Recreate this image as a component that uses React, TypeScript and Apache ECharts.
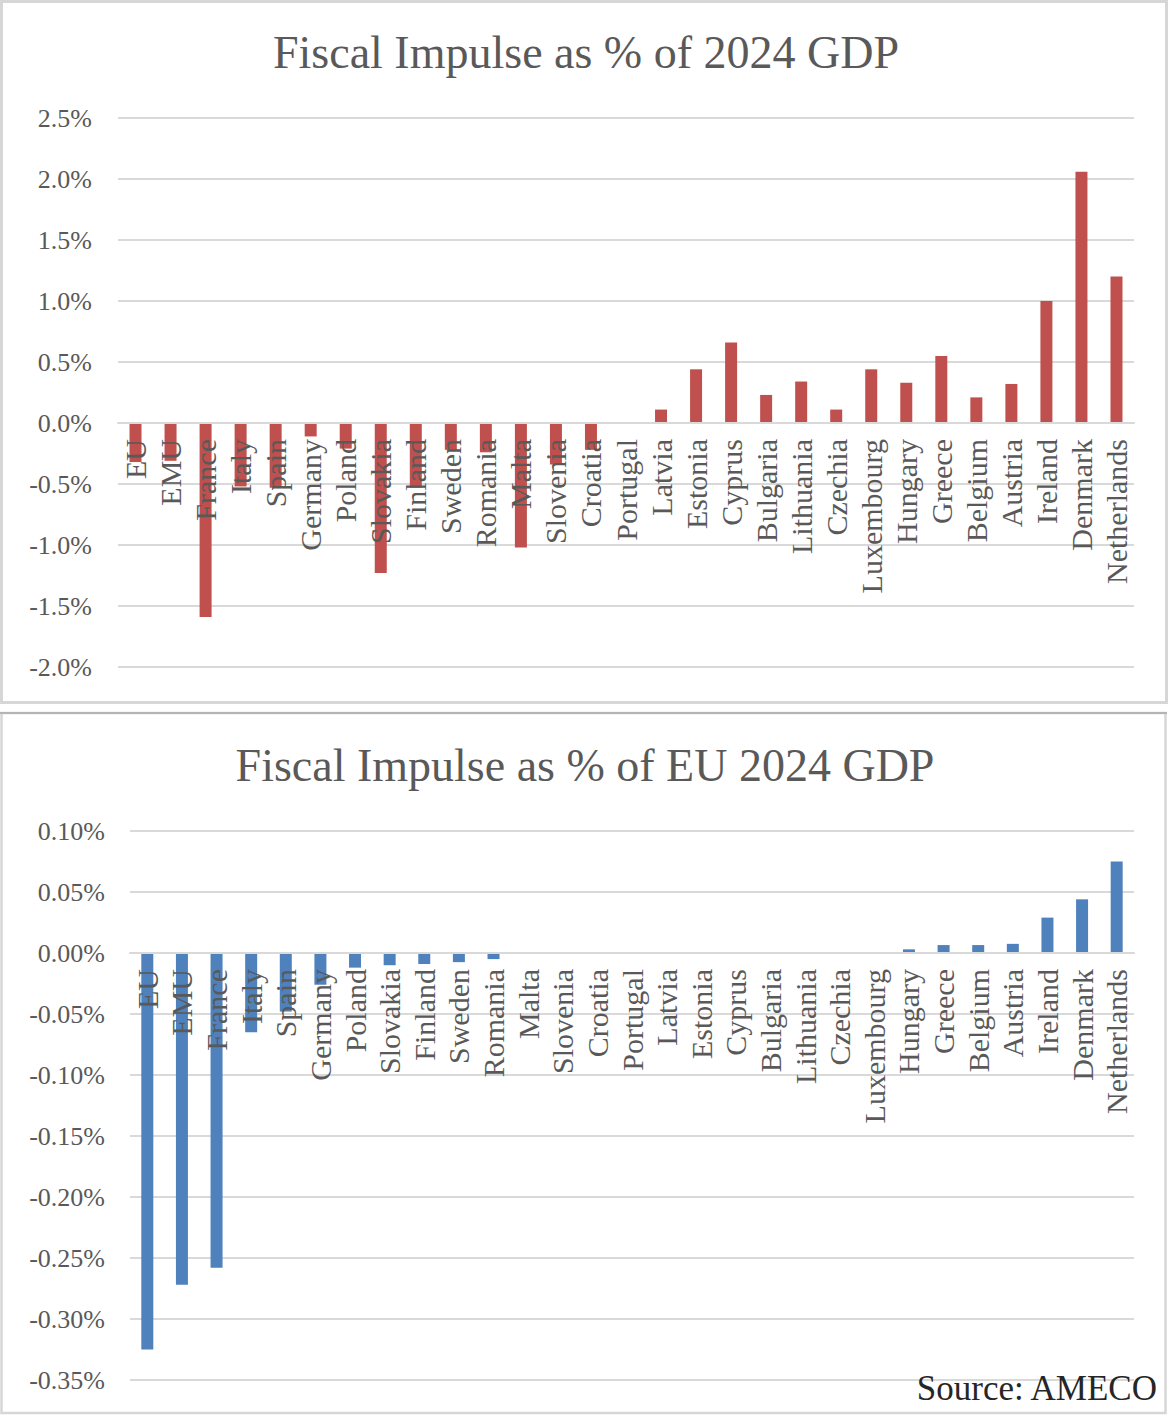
import React, { useEffect, useRef } from "react";
import * as echarts from "echarts";

// Countries, ordered as in the ranking of fiscal impulse
const categories = [
  "EU", "EMU", "France", "Italy", "Spain", "Germany", "Poland", "Slovakia",
  "Finland", "Sweden", "Romania", "Malta", "Slovenia", "Croatia", "Portugal",
  "Latvia", "Estonia", "Cyprus", "Bulgaria", "Lithuania", "Czechia",
  "Luxembourg", "Hungary", "Greece", "Belgium", "Austria", "Ireland",
  "Denmark", "Netherlands",
];

// Fiscal impulse as % of each country's own 2024 GDP
const impulseOwnGdp = [
  -0.32, -0.31, -1.59, -0.52, -0.53, -0.11, -0.21, -1.23, -0.53, -0.22,
  -0.24, -1.02, -0.34, -0.22, 0.0, 0.11, 0.44, 0.66, 0.23, 0.34, 0.11,
  0.44, 0.33, 0.55, 0.21, 0.32, 1.0, 2.06, 1.2,
];

// Fiscal impulse as % of EU 2024 GDP
const impulseEuGdp = [
  -0.325, -0.272, -0.258, -0.065, -0.048, -0.026, -0.012, -0.01, -0.009,
  -0.0075, -0.005, 0, 0, 0, 0, 0, 0, 0, 0, 0, 0, 0, 0.003, 0.0065, 0.0065,
  0.0075, 0.029, 0.044, 0.075,
];

// Value-axis ranges [min, max, step]
const ownGdpAxis = [-2.0, 2.5, 0.5];
const euGdpAxis = [-0.35, 0.1, 0.05];

const titles = [
  "Fiscal Impulse as % of 2024 GDP",
  "Fiscal Impulse as % of EU 2024 GDP",
];
const sourceNote = "Source: AMECO";

const FONT = "'Liberation Serif', 'DejaVu Serif', serif";
const GREY_TEXT = "#595959";
const GRID_LINE = "#d9d9d9";

// Plot areas of the two panels
const panels = [
  { left: 118, top: 118, width: 1016, height: 549, range: ownGdpAxis },
  { left: 130, top: 831, width: 1004, height: 549, range: euGdpAxis },
];

// Distance (px) from the bottom of a plot area up to the value 0,
// so the category axis sits on the zero line
const zeroOffset = (p: { height: number; range: number[] }) =>
  -(p.height * (0 - p.range[0])) / (p.range[1] - p.range[0]);

export default function App() {
  const ref = useRef<HTMLDivElement>(null);

  useEffect(() => {
    if (!ref.current) return;
    const chart = echarts.init(ref.current, null, { renderer: "svg" });

    const xAxisBase = (gridIndex: number) => ({
      type: "category" as const,
      gridIndex,
      data: categories,
      position: "bottom" as const,
      offset: zeroOffset(panels[gridIndex]),
      z: 5,
      axisLine: { show: true, onZero: false, lineStyle: { color: GRID_LINE, width: 2 } },
      axisTick: { show: false },
      axisLabel: {
        rotate: 90,
        interval: 0,
        margin: 16,
        fontSize: 30,
        fontFamily: FONT,
        color: GREY_TEXT,
      },
    });

    const yAxisBase = (gridIndex: number, digits: number, margin: number) => ({
      type: "value" as const,
      gridIndex,
      min: panels[gridIndex].range[0],
      max: panels[gridIndex].range[1],
      interval: panels[gridIndex].range[2],
      axisLine: { show: false },
      axisTick: { show: false },
      splitLine: { lineStyle: { color: GRID_LINE, width: 2 } },
      axisLabel: {
        margin,
        fontSize: 26,
        fontFamily: FONT,
        color: GREY_TEXT,
        formatter: (v: number) => v.toFixed(digits) + "%",
      },
    });

    chart.setOption({
      animation: false,
      backgroundColor: "#ffffff",
      grid: panels.map((p) => ({
        left: p.left,
        top: p.top,
        width: p.width,
        height: p.height,
      })),
      xAxis: [xAxisBase(0), xAxisBase(1)],
      yAxis: [yAxisBase(0, 1, 26), yAxisBase(1, 2, 25)],
      series: [
        {
          type: "bar",
          xAxisIndex: 0,
          yAxisIndex: 0,
          data: impulseOwnGdp,
          barWidth: 12,
          itemStyle: { color: "#C0504D" },
        },
        {
          type: "bar",
          xAxisIndex: 1,
          yAxisIndex: 1,
          data: impulseEuGdp,
          barWidth: 12,
          itemStyle: { color: "#4F81BD" },
        },
      ],
      graphic: [
        {
          type: "rect",
          z: -1,
          shape: { x: 1.5, y: 1.5, width: 1165, height: 701 },
          style: { fill: "none", stroke: "#d6d6d6", lineWidth: 3 },
        },
        {
          type: "rect",
          z: -1,
          shape: { x: 1.5, y: 713, width: 1164, height: 700 },
          style: { fill: "none", stroke: "#d6d6d6", lineWidth: 2.5 },
        },
        {
          type: "line",
          z: -1,
          shape: { x1: 0, y1: 713, x2: 1167, y2: 713 },
          style: { stroke: "#b4b4b4", lineWidth: 2 },
        },
        {
          type: "text",
          x: 586,
          y: 52,
          style: {
            text: titles[0],
            fontSize: 46,
            fontFamily: FONT,
            fill: GREY_TEXT,
            textAlign: "center",
            textVerticalAlign: "middle",
          },
        },
        {
          type: "text",
          x: 585,
          y: 765,
          style: {
            text: titles[1],
            fontSize: 46,
            fontFamily: FONT,
            fill: GREY_TEXT,
            textAlign: "center",
            textVerticalAlign: "middle",
          },
        },
        {
          type: "text",
          x: 1157,
          y: 1388,
          z: 10,
          style: {
            text: sourceNote,
            fontSize: 35,
            fontFamily: FONT,
            fill: "#262626",
            textAlign: "right",
            textVerticalAlign: "middle",
          },
        },
      ],
    });

    return () => chart.dispose();
  }, []);

  return (
    <div
      ref={ref}
      style={{ position: "absolute", left: 0, top: 0, width: 1169, height: 1416 }}
    />
  );
}
